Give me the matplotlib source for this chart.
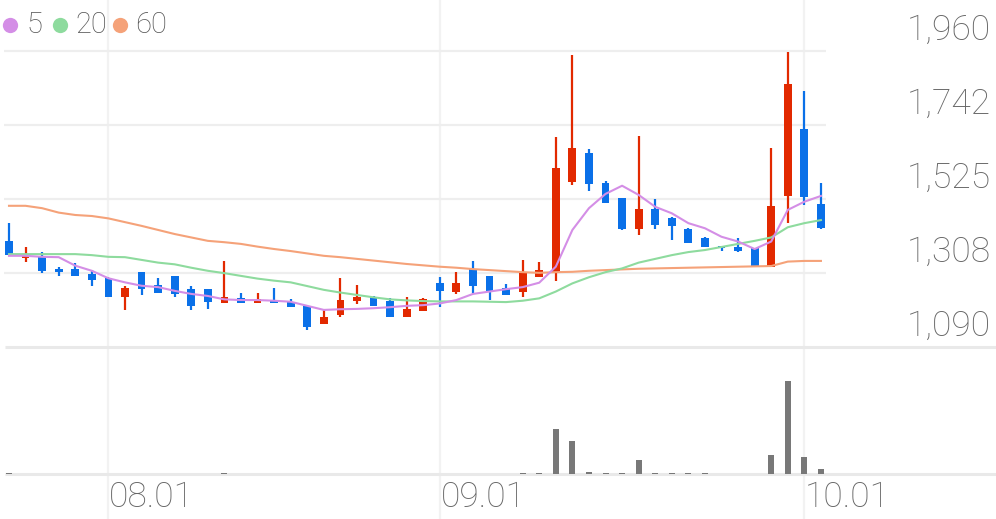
import matplotlib
matplotlib.use("Agg")
import matplotlib.pyplot as plt
from matplotlib.lines import Line2D
from matplotlib.transforms import offset_copy

# ---------------- data ----------------
opens = [1402, 1351, 1357, 1319, 1319, 1304, 1292, 1236, 1309, 1272,
         1300, 1260, 1260, 1220, 1235, 1220, 1226, 1223, 1211, 1157,
         1184, 1225, 1238, 1225, 1177, 1197, 1279, 1253, 1319, 1299,
         1262, 1253, 1297, 1308, 1574, 1659, 1571, 1527, 1437, 1497,
         1470, 1437, 1411, 1387, 1383, 1380, 1324, 1534, 1730, 1511]
highs = [1454, 1385, 1368, 1326, 1338, 1316, 1297, 1269, 1310, 1294,
         1300, 1270, 1261, 1344, 1248, 1248, 1264, 1231, 1211, 1199,
         1292, 1272, 1240, 1233, 1236, 1233, 1297, 1310, 1344, 1300,
         1275, 1346, 1339, 1706, 1948, 1671, 1579, 1527, 1711, 1524,
         1471, 1440, 1412, 1388, 1410, 1381, 1674, 1956, 1843, 1573]
lows = [1360, 1341, 1308, 1299, 1299, 1269, 1236, 1199, 1243, 1248,
        1236, 1199, 1201, 1220, 1220, 1220, 1220, 1207, 1140, 1157,
        1179, 1216, 1210, 1177, 1177, 1195, 1207, 1246, 1250, 1228,
        1243, 1238, 1297, 1285, 1566, 1549, 1512, 1434, 1419, 1436,
        1404, 1397, 1384, 1372, 1368, 1324, 1324, 1454, 1507, 1436]
closes = [1360, 1360, 1313, 1310, 1299, 1287, 1236, 1264, 1260, 1248,
          1246, 1211, 1223, 1236, 1220, 1230, 1220, 1207, 1150, 1177,
          1228, 1236, 1210, 1177, 1201, 1231, 1255, 1277, 1269, 1253,
          1243, 1311, 1316, 1617, 1674, 1569, 1512, 1436, 1496, 1449,
          1446, 1397, 1384, 1380, 1373, 1324, 1505, 1862, 1532, 1439]
ma5 = [1358, 1358, 1355, 1354, 1329, 1314, 1292, 1280, 1270, 1266,
       1255, 1246, 1240, 1230, 1228, 1228, 1226, 1223, 1211, 1199,
       1201, 1202, 1204, 1207, 1211, 1213, 1218, 1228, 1246, 1253,
       1260, 1266, 1279, 1326, 1434, 1498, 1540, 1564, 1537, 1502,
       1483, 1454, 1439, 1414, 1400, 1378, 1400, 1493, 1517, 1534]
ma20 = [1363, 1363, 1363, 1363, 1363, 1360, 1355, 1354, 1346, 1338,
        1333, 1323, 1314, 1307, 1299, 1291, 1285, 1280, 1269, 1258,
        1250, 1243, 1236, 1230, 1227, 1225, 1224, 1224, 1224, 1223,
        1222, 1226, 1233, 1253, 1277, 1295, 1310, 1321, 1338, 1349,
        1360, 1369, 1375, 1384, 1393, 1402, 1412, 1442, 1454, 1463]
ma60 = [1505, 1505, 1498, 1485, 1478, 1475, 1468, 1457, 1446, 1434,
        1422, 1412, 1402, 1398, 1393, 1385, 1378, 1372, 1365, 1358,
        1354, 1349, 1344, 1339, 1334, 1330, 1326, 1323, 1319, 1316,
        1313, 1310, 1308, 1310, 1311, 1314, 1316, 1318, 1320, 1321,
        1322, 1323, 1324, 1325, 1326, 1327, 1328, 1341, 1343, 1343]
volumes = [8, 5, 4, 3, 2, 4, 2, 3, 2, 2,
           2, 2, 2, 8, 2, 2, 2, 2, 2, 2,
           4, 2, 2, 2, 2, 2, 5, 4, 4, 2,
           2, 6, 8, 450, 330, 25, 10, 10, 143, 12,
           6, 6, 6, 3, 3, 3, 186, 930, 170, 53]
tick_idx = [6, 26, 48]
tick_labels = ["08.01", "09.01", "10.01"]
price_ticks = [1090, 1308, 1525, 1742, 1960]
price_labels = ["1,090", "1,308", "1,525", "1,742", "1,960"]
ma_names = ["5", "20", "60"]

# ---------------- style ----------------
RED = "#e22900"
BLUE = "#0a70e8"
MA_COLORS = ["#d48ee6", "#8edb9e", "#f5a279"]
GRID = "#eeeeee"
TXT = "#666666"
FONT = dict(family=["Roboto", "DejaVu Sans"], fontweight="light")

W, H = 996, 519
fig = plt.figure(figsize=(W / 100, H / 100), dpi=100)
STEP = 16.57
X0, X1 = -9 / STEP, (W - 9) / STEP
x = list(range(len(opens)))


def px_axes(top, bottom):
    return [0, 1 - bottom / H, 1, (bottom - top) / H]


bg = fig.add_axes([0, 0, 1, 1])
bg.set_xlim(X0, X1)
bg.set_ylim(H, 0)
bg.axis("off")
for t in tick_idx:
    bg.axvline(t, color="#f2f2f2", lw=1.6, zorder=0)
bg.hlines([347, 474], (5 - 9) / STEP, X1, color="#e9e9e9", lw=2.2, zorder=1)

# price panel
axp = fig.add_axes(px_axes(0, 347))
axp.set_xlim(X0, X1)
axp.set_ylim(1090, 1090 + 347 * 870 / 296)
axp.axis("off")
axp.patch.set_alpha(0)
axp.hlines(price_ticks[1:], (4 - 9) / STEP, (826 - 9) / STEP, color=GRID, lw=1.6, zorder=1)

for i in x:
    o, h, l, c = opens[i], highs[i], lows[i], closes[i]
    col = RED if c >= o else BLUE
    axp.vlines(i, l, h, color=col, lw=1.6, zorder=3)
    body = max(abs(c - o), 5)
    axp.bar(i, body, bottom=min(o, c), width=0.47, color=col, zorder=4, linewidth=0)

for vals, col in zip([ma60, ma20, ma5], MA_COLORS[::-1]):
    axp.plot(x, vals, color=col, lw=1.5, zorder=5, solid_joinstyle="round")

lab_tr = offset_copy(axp.transData, fig=fig, x=0, y=21, units="dots")
for v, s in zip(price_ticks, price_labels):
    axp.text((991 - 9) / STEP, v, s, transform=lab_tr, ha="right", va="center",
             fontsize=25.5, color=TXT, **FONT)

# volume panel
axv = fig.add_axes(px_axes(347, 474))
axv.set_xlim(X0, X1)
axv.set_ylim(0, 1270)
axv.axis("off")
axv.patch.set_alpha(0)
axv.bar(x, volumes, width=0.36, color="#787878", linewidth=0, zorder=3)

# x tick labels
for t, s in zip(tick_idx, tick_labels):
    bg.text(t + 0.05, 497, s, ha="left", va="center", fontsize=25.5, color=TXT, **FONT)

# legend
leg_x = [10, 60, 120]
txt_x = [26, 75, 135]
for cx, tx, col, name in zip(leg_x, txt_x, MA_COLORS, ma_names):
    fig.add_artist(Line2D([cx / W], [1 - 25 / H], marker="o", ms=11, color=col,
                          markeredgewidth=0, transform=fig.transFigure))
    fig.text(tx / W, 1 - 25 / H, name, ha="left", va="center", fontsize=21,
             color="#555555", **FONT)

fig.savefig("out.png", dpi=100)
